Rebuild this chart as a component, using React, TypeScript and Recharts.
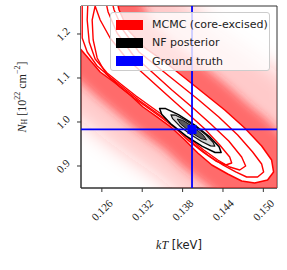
import React from "react";
import { ComposedChart, Scatter, XAxis, YAxis, ReferenceArea, Label } from "recharts";

// axis setup
const xDomain = [0.1229, 0.15203];
const yDomain = [0.85, 1.2636];
const xTicks = [0.126, 0.132, 0.138, 0.144, 0.15];
const yTicks = [0.9, 1.0, 1.1, 1.2];

// ground truth (kT, NH)
const truthKT = 0.1394;
const truthNH = 0.983;

// MCMC haze (outer faint / inner strong) and contour levels, [kT, NH] vertices
const hazeOuter = [
  [0.11982, 1.3455], [0.13463, 1.3455], [0.13686, 1.2999], [0.13982, 1.2545], [0.14278, 1.2136],
  [0.14649, 1.175], [0.15019, 1.1364], [0.15389, 1.0955], [0.15538, 0.8], [0.14056, 0.8],
  [0.1376, 0.8341], [0.13389, 0.8795], [0.13019, 0.9182], [0.12649, 0.9591], [0.12278, 1.0045],
  [0.11982, 1.0386],
];
const hazeInner = [
  [0.11982, 1.3227], [0.13093, 1.3227], [0.13167, 1.2773], [0.13345, 1.2273], [0.13582, 1.1909],
  [0.13878, 1.1545], [0.14175, 1.1182], [0.14471, 1.0818], [0.14767, 1.0409], [0.15063, 1.0045],
  [0.15315, 0.9636], [0.15463, 0.8909], [0.15463, 0.8227], [0.14649, 0.8114], [0.14352, 0.8341],
  [0.14056, 0.8682], [0.1379, 0.9], [0.13537, 0.9364], [0.13286, 0.9636], [0.13049, 0.9909],
  [0.12797, 1.0227], [0.12545, 1.0545], [0.12278, 1.0909], [0.12056, 1.1182],
];
const mcmcLevel1 = [
  [0.12219, 1.2909], [0.12797, 1.2909], [0.12856, 1.2545], [0.12989, 1.2091], [0.13241, 1.1682],
  [0.13537, 1.1364], [0.13834, 1.1], [0.1413, 1.0636], [0.14426, 1.0273], [0.14723, 0.9864],
  [0.14975, 0.9455], [0.15123, 0.9136], [0.15152, 0.8864], [0.15063, 0.8682], [0.14871, 0.8614],
  [0.14678, 0.8659], [0.14471, 0.8818], [0.14234, 0.9023], [0.14026, 0.9295], [0.13834, 0.9591],
  [0.13641, 0.9864], [0.13419, 1.0114], [0.13212, 1.0341], [0.13019, 1.0614], [0.12797, 1.0886],
  [0.12575, 1.1136], [0.12397, 1.1455], [0.12219, 1.1773],
];
const mcmcLevel2 = [
  [0.12308, 1.2909], [0.12723, 1.2909], [0.12782, 1.2545], [0.12915, 1.2091], [0.13152, 1.1591],
  [0.13449, 1.1227], [0.13745, 1.0864], [0.14041, 1.05], [0.14338, 1.0114], [0.14619, 0.9705],
  [0.14841, 0.9318], [0.14975, 0.9045], [0.15004, 0.8864], [0.14915, 0.875], [0.14752, 0.875],
  [0.14589, 0.8864], [0.14397, 0.9023], [0.14175, 0.925], [0.13967, 0.95], [0.13775, 0.9795],
  [0.13582, 1.0023], [0.13375, 1.025], [0.13167, 1.0477], [0.1296, 1.0727], [0.12737, 1.1],
  [0.1253, 1.1273], [0.12382, 1.1591], [0.12308, 1.1909],
];
const mcmcLevel3 = [
  [0.12397, 1.2909], [0.12634, 1.2909], [0.12693, 1.25], [0.12826, 1.2023], [0.13063, 1.1523],
  [0.13345, 1.1136], [0.13641, 1.0727], [0.13938, 1.0341], [0.14219, 0.9955], [0.14486, 0.9568],
  [0.14678, 0.9205], [0.14737, 0.9], [0.14649, 0.8909], [0.145, 0.8977], [0.14323, 0.9136],
  [0.14115, 0.9364], [0.13908, 0.9614], [0.13715, 0.9909], [0.13523, 1.0136], [0.13315, 1.0364],
  [0.13108, 1.0591], [0.129, 1.0841], [0.12678, 1.1114], [0.125, 1.1432], [0.12412, 1.1818],
  [0.12382, 1.2318],
];
const mcmcLevel4 = [
  [0.125, 1.2636], [0.12575, 1.2318], [0.12723, 1.1909], [0.1296, 1.1455], [0.13256, 1.1045],
  [0.13552, 1.0636], [0.13834, 1.025], [0.14115, 0.9864], [0.14352, 0.9477], [0.145, 0.9205],
  [0.1453, 0.9068], [0.14441, 0.9023], [0.14293, 0.9114], [0.141, 0.9318], [0.13893, 0.9568],
  [0.13686, 0.9864], [0.13493, 1.0091], [0.13286, 1.0318], [0.13078, 1.0545], [0.12871, 1.0795],
  [0.12663, 1.1091], [0.1253, 1.1455], [0.12471, 1.1864], [0.12456, 1.2318],
];

// NF posterior contours
const nfOuter = [
  [0.14373, 0.9305], [0.14283, 0.9307], [0.14093, 0.9445], [0.13855, 0.9677], [0.13634, 0.9945],
  [0.13489, 1.0175], [0.13458, 1.0309], [0.13548, 1.0305], [0.13738, 1.0168], [0.13976, 0.9936],
  [0.14197, 0.9668], [0.14342, 0.9436],
];
const nfMiddle = [
  [0.14279, 0.945], [0.14215, 0.9457], [0.14082, 0.9557], [0.13914, 0.9723], [0.13756, 0.9911],
  [0.13652, 1.0075], [0.13627, 1.0164], [0.1369, 1.0157], [0.13824, 1.0057], [0.13991, 0.9891],
  [0.1415, 0.9702], [0.14253, 0.9539],
];
const nfInner = [
  [0.14156, 0.9591], [0.14073, 0.9623], [0.13913, 0.9775], [0.13767, 0.9959], [0.1372, 1.0068],
  [0.13803, 1.0036], [0.13963, 0.9884], [0.14108, 0.97],
];

const toPts = (a: number[][]) => a.map(([x, y]) => ({ x, y }));

const noDot = () => <g />;

const polygon = (fill: string, stroke: string, sw: number, extra: any = {}) => (p: any) => {
  const pts = p.points || [];
  const d = pts.map((q: any, i: number) => `${i ? "L" : "M"}${q.x},${q.y}`).join("") + "Z";
  return <path d={d} fill={fill} stroke={stroke} strokeWidth={sw} strokeLinejoin="round" {...extra} />;
};

const straight = (stroke: string, sw: number) => (p: any) => {
  const pts = p.points || [];
  const d = pts.map((q: any, i: number) => `${i ? "L" : "M"}${q.x},${q.y}`).join("");
  return <path d={d} fill="none" stroke={stroke} strokeWidth={sw} />;
};

const XTick = (props: any) => {
  const { x, y, payload } = props;
  const cy = y + 18;
  return (
    <text x={x} y={cy} textAnchor="middle" dominantBaseline="central" transform={`rotate(-45 ${x} ${cy})`}
      fontSize={11} fontFamily="Liberation Serif" fill="#222">
      {Number(payload.value).toFixed(3)}
    </text>
  );
};

const YTick = (props: any) => {
  const { x, y, payload } = props;
  const cx = x - 14;
  return (
    <text x={cx} y={y} textAnchor="middle" dominantBaseline="central" transform={`rotate(-45 ${cx} ${y})`}
      fontSize={11} fontFamily="Liberation Serif" fill="#222">
      {Number(payload.value).toFixed(1)}
    </text>
  );
};

const legendRows = [
  { label: "MCMC (core-excised)", color: "#ff0000" },
  { label: "NF posterior", color: "#000000" },
  { label: "Ground truth", color: "#0000ff" },
];

export default function App() {
  const layer = (data: number[][], line: any) => (
    <Scatter data={toPts(data)} line={line} shape={noDot} isAnimationActive={false} />
  );

  return (
    <div style={{ position: "relative", width: 287, height: 270, background: "#fff", overflow: "hidden" }}>
      <style>{"body{margin:0}"}</style>
      <ComposedChart width={287} height={270} margin={{ top: 6, right: 10, bottom: 0, left: 0 }}>
        <defs>
          <filter id="hazeSoft" x="-50%" y="-50%" width="200%" height="200%">
            <feGaussianBlur stdDeviation="10" />
          </filter>
          <filter id="hazeHard" x="-50%" y="-50%" width="200%" height="200%">
            <feGaussianBlur stdDeviation="5" />
          </filter>
        </defs>
        <XAxis type="number" dataKey="x" domain={xDomain} ticks={xTicks} interval={0} allowDataOverflow height={82}
          tick={<XTick />} tickSize={4} tickMargin={0} axisLine={{ stroke: "#333" }} tickLine={{ stroke: "#333" }}>
          <Label content={(p: any) => {
            const vb = p.viewBox || { x: 81, y: 188, width: 196 };
            const cx = vb.x + vb.width / 2;
            return (
              <text x={cx} y={vb.y + 57} textAnchor="middle" dominantBaseline="central" fontSize={12} fill="#222">
                <tspan fontFamily="Liberation Serif" fontStyle="italic">kT</tspan>
                <tspan fontFamily="DejaVu Sans" fontSize={11.5}> [keV]</tspan>
              </text>
            );
          }} />
        </XAxis>
        <YAxis type="number" dataKey="y" domain={yDomain} ticks={yTicks} interval={0} allowDataOverflow width={81}
          tick={<YTick />} tickSize={4} tickMargin={0} axisLine={{ stroke: "#333" }} tickLine={{ stroke: "#333" }}>
          <Label content={(p: any) => {
            const vb = p.viewBox || { x: 0, y: 6, height: 182 };
            const cy = vb.y + vb.height / 2;
            return (
              <text x={22} y={cy} transform={`rotate(-90 22 ${cy})`} textAnchor="middle" dominantBaseline="central"
                fontFamily="Liberation Serif" fontSize={12} fill="#222">
                <tspan fontStyle="italic">N</tspan>
                <tspan fontSize={8} dy={2}>H</tspan>
                <tspan dy={-2}> [10</tspan>
                <tspan fontSize={8} dy={-5}>22</tspan>
                <tspan dy={5}> cm</tspan>
                <tspan fontSize={8} dy={-5}>−2</tspan>
                <tspan dy={5}>]</tspan>
              </text>
            );
          }} />
        </YAxis>

        {layer(hazeOuter, polygon("#ff1a1a", "none", 0, { fillOpacity: 0.24, filter: "url(#hazeSoft)" }))}
        {layer(hazeInner, polygon("#ff2a2a", "none", 0, { fillOpacity: 0.58, filter: "url(#hazeHard)" }))}
        {layer(mcmcLevel1, polygon("#ffffff", "#ff0000", 1.5))}
        {layer(mcmcLevel2, polygon("none", "#ff0000", 1.4))}
        {layer(mcmcLevel3, polygon("none", "#ff0000", 1.4))}
        {layer(mcmcLevel4, polygon("none", "#ff0000", 1.4))}

        {layer(nfOuter, polygon("#fafafa", "#000000", 1.5))}
        {layer(nfMiddle, polygon("#d2d2d2", "#111111", 1.2))}
        {layer(nfInner, polygon("#5a5a5a", "#111111", 1))}

        {layer([[truthKT, 0.8], [truthKT, 1.3]], straight("#0000ff", 1.8))}
        {layer([[0.12, truthNH], [0.16, truthNH]], straight("#0000ff", 1.8))}
        <Scatter data={toPts([[truthKT, truthNH]])} isAnimationActive={false}
          shape={(p: any) => <rect x={p.cx - 4.5} y={p.cy - 4.5} width={9} height={9} fill="#0000ff" />} />

        <ReferenceArea x1={xDomain[0]} x2={xDomain[1]} y1={yDomain[0]} y2={yDomain[1]}
          fill="none" stroke="#333" strokeWidth={1} />
      </ComposedChart>

      <div style={{
        position: "absolute", left: 110, top: 12, width: 160, height: 59, boxSizing: "border-box",
        background: "rgba(255,255,255,0.8)", border: "1px solid #cccccc", borderRadius: 3,
        fontFamily: "DejaVu Sans", fontSize: 11, color: "#222",
      }}>
        {legendRows.map((r, i) => (
          <div key={r.label} style={{ position: "absolute", left: 5, top: 5 + i * 18.3, height: 13, display: "flex", alignItems: "center" }}>
            <span style={{ display: "inline-block", width: 27, height: 10, background: r.color, marginRight: 9 }} />
            <span style={{ whiteSpace: "nowrap" }}>{r.label}</span>
          </div>
        ))}
      </div>
    </div>
  );
}
